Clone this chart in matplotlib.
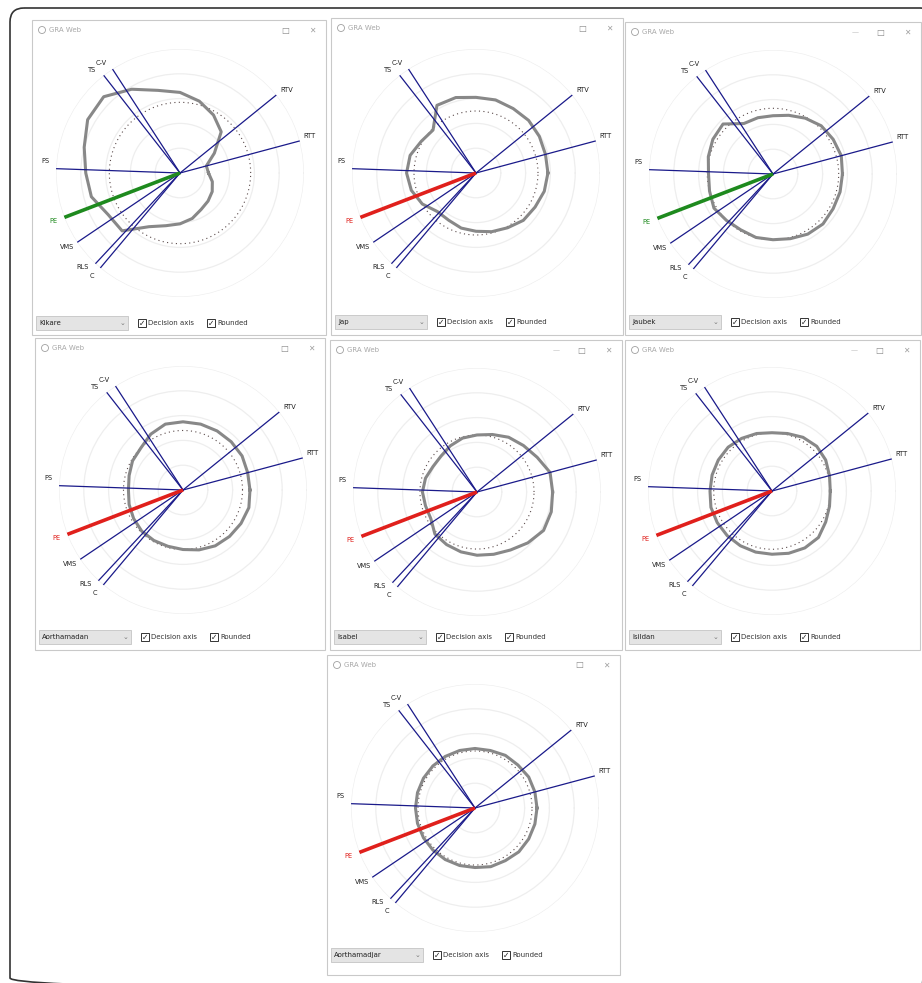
import numpy as np
import matplotlib.pyplot as plt
from matplotlib.patches import Rectangle, FancyBboxPatch, Circle

W, H = 922, 983

# criteria axes of the GRA web (angle in degrees, counter-clockwise from east)
axis_names = ["RTV", "RTT", "PS", "PE", "VMS", "RLS", "C", "TS", "C-V"]
axis_deg = [39, 15, 178, 201, 214, 227, 230, 128, 123]
label_deg = [38, 16, 175, 201, 213, 224, 229.5, 130.5, 125.5]

# grey web curve, radius sampled every 15 degrees (0..345)
curve_deg = list(range(0, 360, 15))
web_kikare = [0.23, 0.22, 0.32, 0.47, 0.54, 0.60, 0.65, 0.69, 0.78, 0.87, 0.86, 0.80,
              0.76, 0.74, 0.67, 0.66, 0.50, 0.44, 0.41, 0.38, 0.34, 0.32, 0.30, 0.27]
web_jap = [0.58, 0.58, 0.59, 0.60, 0.60, 0.61, 0.61, 0.63, 0.63, 0.49, 0.51, 0.55,
           0.56, 0.54, 0.50, 0.44, 0.44, 0.46, 0.47, 0.49, 0.51, 0.54, 0.55, 0.57]
web_jaubek = [0.56, 0.57, 0.56, 0.55, 0.52, 0.49, 0.47, 0.47, 0.47, 0.57, 0.56, 0.54,
              0.52, 0.53, 0.55, 0.53, 0.52, 0.53, 0.53, 0.54, 0.56, 0.57, 0.56, 0.56]
web_aorth = [0.54, 0.54, 0.55, 0.55, 0.55, 0.55, 0.55, 0.55, 0.52, 0.48, 0.47, 0.45,
             0.44, 0.45, 0.46, 0.47, 0.47, 0.47, 0.48, 0.50, 0.52, 0.53, 0.54, 0.55]
web_isabel = [0.61, 0.61, 0.56, 0.53, 0.51, 0.48, 0.46, 0.45, 0.43, 0.41, 0.41, 0.43,
              0.44, 0.43, 0.43, 0.48, 0.49, 0.50, 0.51, 0.52, 0.54, 0.58, 0.62, 0.62]
web_isildan = [0.47, 0.48, 0.50, 0.51, 0.50, 0.48, 0.47, 0.48, 0.49, 0.50, 0.50, 0.50,
               0.50, 0.51, 0.51, 0.51, 0.51, 0.51, 0.51, 0.52, 0.53, 0.53, 0.50, 0.48]
web_aorthj = [0.50, 0.50, 0.50, 0.49, 0.49, 0.48, 0.48, 0.48, 0.48, 0.48, 0.48, 0.48,
              0.48, 0.48, 0.48, 0.48, 0.48, 0.48, 0.48, 0.49, 0.49, 0.50, 0.50, 0.50]

ref_ring = [0.57, 0.50, 0.53, 0.48, 0.46, 0.47, 0.46]
methods = ["Kikare", "Jap", "Jaubek", "Aorthamadan", "Isabel", "Isildan", "Aorthamadjar"]
webs = [web_kikare, web_jap, web_jaubek, web_aorth, web_isabel, web_isildan, web_aorthj]
hl_colors = ["#1e8a1e", "#e0201c", "#1e8a1e", "#e0201c", "#e0201c", "#e0201c", "#e0201c"]

# window frames (pixels: left, top, right, bottom), web centre, control row y
frames = [(32, 20, 326, 335), (331, 18, 623, 335), (625, 22, 921, 335),
          (35, 338, 325, 650), (330, 340, 622, 650), (625, 340, 920, 650),
          (327, 655, 620, 975)]
centers = [(180, 173), (476, 173), (773, 174), (183, 490), (477, 492), (772, 491), (475, 808)]
ctrl_y = [323, 322, 322, 637, 637, 637, 955]
three_buttons = [False, False, True, False, True, True, False]
R = 124

navy = "#1a1a8a"

fig = plt.figure(figsize=(9.22, 9.83), dpi=100)
bg = fig.add_axes([0, 0, 1, 1])
bg.set_xlim(0, W)
bg.set_ylim(H, 0)
bg.axis("off")

# outer rounded frame round the whole collage (right and bottom run off the page)
bg.add_patch(FancyBboxPatch((10, 8), 924, 984, boxstyle="round,pad=0,rounding_size=14",
                            fill=False, ec="#333333", lw=1.2))

for i in range(7):
    x0, y0, x1, y1 = frames[i]
    bg.add_patch(Rectangle((x0, y0), x1 - x0, y1 - y0, fc="white", ec="#c9c9c9", lw=0.8))
    # title bar
    bg.add_patch(Circle((x0 + 10, y0 + 10), 3.5, fill=False, ec="#a0a0a0", lw=0.6))
    bg.text(x0 + 17, y0 + 10, "GRA Web", fontsize=5, color="#a8a8a8", va="center")
    if three_buttons[i]:
        bg.text(x1 - 66, y0 + 10, "—", fontsize=5, color="#b8b8b8", va="center", ha="center")
    bg.text(x1 - 41, y0 + 10, "□", fontsize=6, color="#8a8a8a", va="center", ha="center")
    bg.text(x1 - 14, y0 + 10, "✕", fontsize=5.5, color="#a0a0a0", va="center", ha="center")
    # control row
    yc = ctrl_y[i]
    bg.add_patch(Rectangle((x0 + 4, yc - 7), 92, 14, fc="#e4e4e4", ec="#c4c4c4", lw=0.6))
    bg.text(x0 + 7, yc, methods[i], fontsize=5, va="center", color="#222222")
    bg.text(x0 + 90, yc, "⌄", fontsize=5, va="center", ha="center", color="#777777")
    for cbx, txt in [(x0 + 106, "Decision axis"), (x0 + 175, "Rounded")]:
        bg.add_patch(Rectangle((cbx, yc - 4), 8, 8, fill=False, ec="#333333", lw=0.7))
        bg.text(cbx + 4, yc, "✓", fontsize=5.5, va="center", ha="center", color="#222222")
        bg.text(cbx + 10, yc, txt, fontsize=5, va="center", color="#333333")

    # the web itself
    cx, cy = centers[i]
    ax = fig.add_axes([(cx - R) / W, 1 - (cy + R) / H, 2 * R / W, 2 * R / H], projection="polar")
    ax.set_ylim(0, 1.0)
    ax.set_rgrids([0.2, 0.4, 0.6, 0.8, 1.0], labels=[])
    ax.set_xticks([])
    ax.grid(True, axis="y", color="#eeeeee", lw=0.9)
    ax.spines["polar"].set_visible(False)
    ax.patch.set_alpha(0)

    ring_t = np.linspace(0, 2 * np.pi, 240)
    ax.plot(ring_t, [ref_ring[i]] * len(ring_t), color="#5a4a4a", lw=0.8,
            ls=(0, (1, 3)), zorder=2)

    th = np.deg2rad(curve_deg + [curve_deg[0]])
    rr = webs[i] + [webs[i][0]]
    ax.plot(th, rr, color="#888888", lw=2.2, solid_joinstyle="round", zorder=3)

    for name, d, ld in zip(axis_names, axis_deg, label_deg):
        t = np.deg2rad(d)
        if name == "PE":
            ax.plot([t, t], [0, 1], color=hl_colors[i], lw=2.6, zorder=5,
                    solid_capstyle="butt")
            col = hl_colors[i]
        else:
            ax.plot([t, t], [0, 1], color=navy, lw=0.9, zorder=4)
            col = "#222222"
        ax.text(np.deg2rad(ld), 1.09, name, fontsize=4.8, color=col,
                ha="center", va="center")

fig.savefig("out.png", dpi=100)
